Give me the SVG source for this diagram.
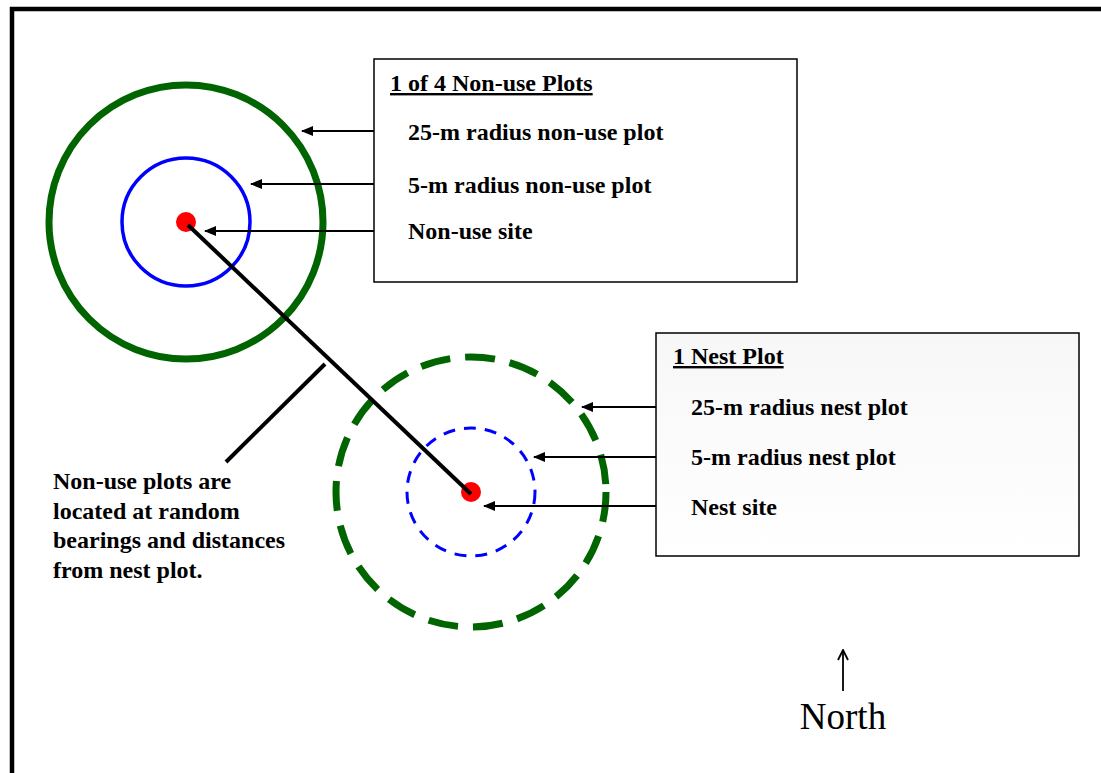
<svg xmlns="http://www.w3.org/2000/svg" width="1101" height="773" viewBox="0 0 1101 773">
<defs>
<marker id="ah" viewBox="0 0 12 10" refX="11" refY="5" markerWidth="12" markerHeight="10" markerUnits="userSpaceOnUse" orient="auto"><path d="M0,0 L12,5 L0,10 Z" fill="#000"/></marker>
<marker id="oh" viewBox="0 0 12 12" refX="11" refY="6" markerWidth="12" markerHeight="12" markerUnits="userSpaceOnUse" orient="auto"><path d="M1,1 L11,6 L1,11" fill="none" stroke="#000" stroke-width="1.8"/></marker>
<linearGradient id="lg" x1="0" y1="0" x2="0" y2="1"><stop offset="0" stop-color="#f7f7f7"/><stop offset="1" stop-color="#ffffff"/></linearGradient>
</defs>
<style>
.t{font-family:"Liberation Serif","Times New Roman",serif;font-weight:bold;font-size:24px;fill:#000}
.h{text-decoration:underline}
.box{stroke:#000;stroke-width:1.5}
.ar{stroke:#000;stroke-width:2;fill:none;marker-end:url(#ah)}
</style>
<rect width="1101" height="773" fill="#fff"/>
<g id="frame"><path d="M12,773 V9 H1101" fill="none" stroke="#000" stroke-width="4.5"/></g>
<g id="nonuse-plot">
<circle cx="186" cy="222" r="137" fill="none" stroke="#006400" stroke-width="7"/>
<circle cx="186" cy="222" r="64" fill="none" stroke="#0000ff" stroke-width="3.5"/>
<circle cx="186" cy="222" r="10" fill="#ff0000"/>
</g>
<g id="nest-plot">
<circle cx="471" cy="492" r="135" fill="none" stroke="#006400" stroke-width="7" stroke-dasharray="30 15"/>
<circle cx="471" cy="492" r="64" fill="none" stroke="#0000ff" stroke-width="3" stroke-dasharray="12 9"/>
<circle cx="471" cy="492" r="10" fill="#ff0000"/>
</g>
<g id="connectors">
<line x1="188" y1="225" x2="471" y2="494" stroke="#000" stroke-width="4"/>
<line x1="325" y1="364" x2="226" y2="462" stroke="#000" stroke-width="4"/>
<line class="ar" x1="398" y1="131" x2="302" y2="131"/>
<line class="ar" x1="397" y1="184" x2="251" y2="184"/>
<line class="ar" x1="397" y1="231" x2="205" y2="231"/>
<line class="ar" x1="680" y1="407" x2="582" y2="407"/>
<line class="ar" x1="680" y1="457" x2="534" y2="457"/>
<line class="ar" x1="680" y1="506" x2="484" y2="506"/>
<line x1="843" y1="691" x2="843" y2="650" stroke="#000" stroke-width="1.8" marker-end="url(#oh)"/>
</g>
<g id="nonuse-legend">
<rect class="box" x="374" y="59" width="423" height="223" fill="#fff"/>
<text class="t h" x="390" y="91">1 of 4 Non-use Plots</text>
<text class="t" x="408" y="140">25-m radius non-use plot</text>
<text class="t" x="408" y="193">5-m radius non-use plot</text>
<text class="t" x="408" y="239">Non-use site</text>
</g>
<g id="nest-legend">
<rect class="box" x="656" y="333" width="423" height="223" fill="url(#lg)"/>
<text class="t h" x="673" y="364">1 Nest Plot</text>
<text class="t" x="691" y="415">25-m radius nest plot</text>
<text class="t" x="691" y="465">5-m radius nest plot</text>
<text class="t" x="691" y="515">Nest site</text>
</g>
<g id="note">
<text class="t" x="53" y="489">Non-use plots are</text>
<text class="t" x="53" y="519">located at random</text>
<text class="t" x="53" y="548">bearings and distances</text>
<text class="t" x="53" y="578">from nest plot.</text>
</g>
<g id="north">
<text x="843" y="729" text-anchor="middle" font-family="Liberation Serif, Times New Roman, serif" font-size="37">North</text>
</g>
</svg>
